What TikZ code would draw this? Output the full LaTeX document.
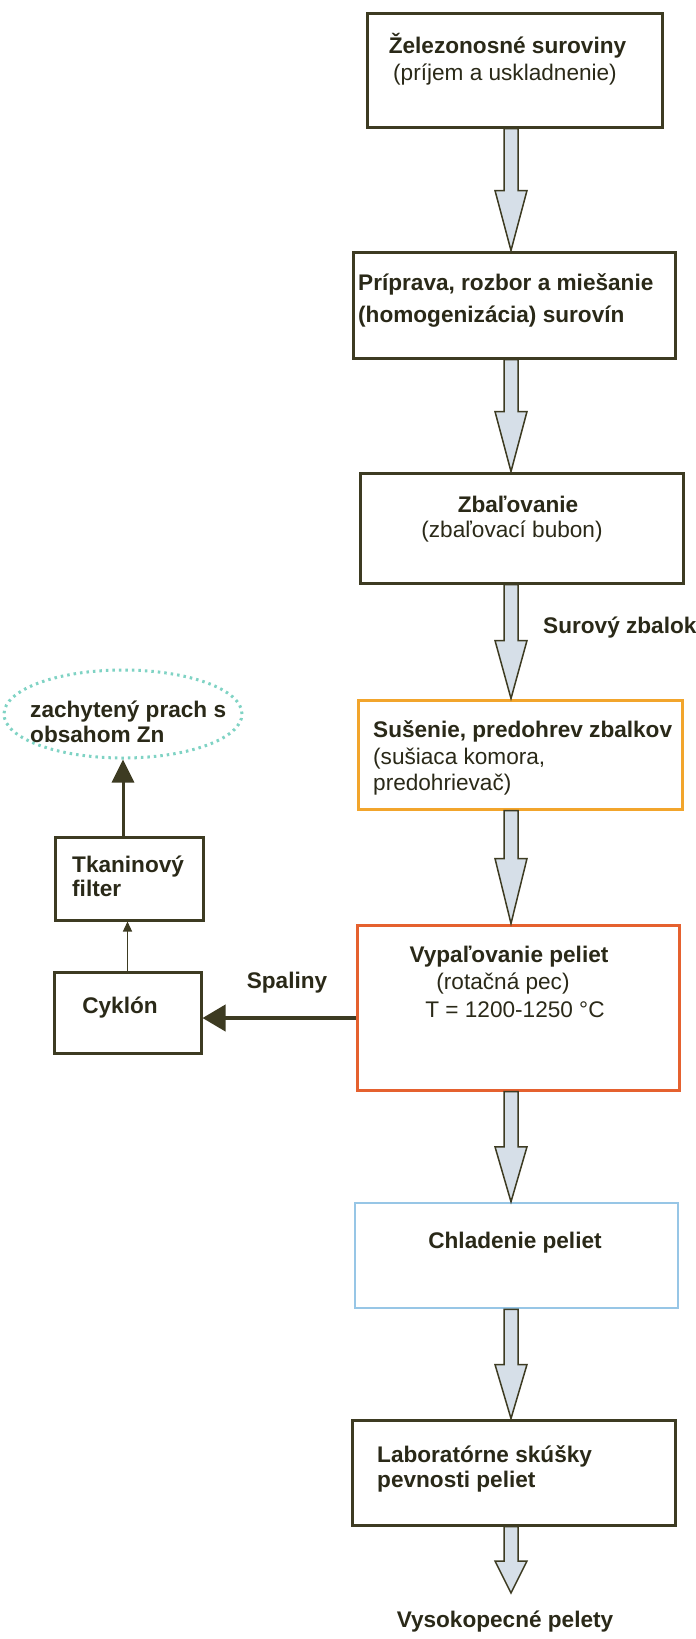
\documentclass[tikz,border=0pt]{standalone}
\usepackage{fontspec}
\setmainfont{Liberation Sans}
\usetikzlibrary{calc,arrows.meta,shapes.geometric}
\definecolor{boxdark}{HTML}{3D3B22}
\definecolor{txt}{HTML}{2A2918}
\definecolor{arrfill}{HTML}{D6DFE8}
\definecolor{orangeb}{HTML}{F2A52C}
\definecolor{redb}{HTML}{E5612F}
\definecolor{blueb}{HTML}{97C6E6}
\definecolor{dotteal}{HTML}{7FD3C4}
\tikzset{
  box/.style={draw=boxdark, line width=3pt, inner sep=0pt, fill=white},
  lblb/.style={font=\fontsize{22.6}{27}\selectfont\bfseries, text=txt, inner sep=0pt, anchor=base},
  lblr/.style={font=\fontsize{22.6}{27}\selectfont, text=txt, inner sep=0pt, anchor=base},
  flowarr/.style={draw=boxdark, fill=arrfill, line width=1.5pt, line join=miter},
  thkarr/.style={draw=boxdark, line width=4pt, -{Triangle[length=23pt,width=26pt]}},
  medarr/.style={draw=boxdark, line width=3pt, -{Triangle[length=23pt,width=22pt]}},
  thinarr/.style={draw=boxdark, line width=1.2pt, -{Triangle[length=10pt,width=9pt]}},
}
\newcommand\flowarrow[3]{\draw[flowarr] let \p1=(ax|-#1), \p2=(ax|-#2) in
  (\x1-7pt,\y1) -- (\x1+7pt,\y1) -- (\x1+7pt,\y2+#3pt) -- (\x1+16pt,\y2+#3pt) --
  (\x1,\y2) -- (\x1-16pt,\y2+#3pt) -- (\x1-7pt,\y2+#3pt) -- cycle;}
\begin{document}
\begin{tikzpicture}[x=1pt,y=-1pt]
\useasboundingbox[fill=white] (0,0) rectangle (696,1639);
\coordinate (ax) at (511,0);
\coordinate (out) at (511,1593);
% main boxes
\node[box, minimum width=295pt, minimum height=114pt] (b1) at (514.5,70) {};
\node[box, minimum width=322pt, minimum height=106pt] (b2) at (514,305) {};
\node[box, minimum width=323pt, minimum height=110pt] (b3) at (521.5,528) {};
\node[box, draw=orangeb, minimum width=324pt, minimum height=109pt] (b4) at (520,754.5) {};
\node[box, draw=redb, minimum width=322pt, minimum height=165pt] (b5) at (518,1007.5) {};
\node[box, draw=blueb, line width=2.5pt, minimum width=323pt, minimum height=105pt] (b6) at (516.5,1255.5) {};
\node[box, minimum width=323pt, minimum height=105pt] (b7) at (513.5,1472.5) {};
% side boxes
\node[box, minimum width=148pt, minimum height=83pt] (fi) at (129,878.5) {};
\node[box, minimum width=147pt, minimum height=81pt] (cy) at (127.5,1012.5) {};
\node[ellipse, draw=dotteal, line width=3pt, dash pattern=on 2.5pt off 4pt,
      minimum width=238pt, minimum height=88pt, inner sep=0pt] (el) at (123,714) {};
% block arrows
\flowarrow{b1.south}{b2.north}{60}
\flowarrow{b2.south}{b3.north}{60}
\flowarrow{b3.south}{b4.north}{58}
\flowarrow{b4.south}{b5.north}{65}
\flowarrow{b5.south}{b6.north}{55}
\flowarrow{b6.south}{b7.north}{54}
\flowarrow{b7.south}{out}{32}
% side arrows
\draw[thkarr] ($(b5.west |- cy.east)+(0,5.5)$) -- ($(cy.east)+(0,5.5)$);
\draw[thinarr] (cy.north) -- (cy.north |- fi.south);
\draw[medarr] (el.south |- fi.north) -- (el.south);
% texts
\node[lblb] (t1a) at (507.5,53) {Železonosné suroviny};
\node[lblr] (t1b) at (505,80) {(príjem a uskladnenie)};
\node[lblb, anchor=base west] (t2a) at (358,290) {Príprava, rozbor a miešanie};
\node[lblb, anchor=base west] (t2b) at (358,322) {(homogenizácia) surovín};
\node[lblb] (t3a) at (518,512) {Zbaľovanie};
\node[lblr] (t3b) at (512,537) {(zbaľovací bubon)};
\node[lblb, anchor=base west] (sz) at (543,633) {Surový zbalok};
\node[lblb, anchor=base west] (t4a) at (373,737) {Sušenie, predohrev zbalkov};
\node[lblr, anchor=base west] (t4b) at (373,764) {(sušiaca komora,};
\node[lblr, anchor=base west] (t4c) at (373,790) {predohrievač)};
\node[lblb] (t5a) at (509,962) {Vypaľovanie peliet};
\node[lblr] (t5b) at (503,989) {(rotačná pec)};
\node[lblr] (t5c) at (515,1017) {T = 1200-1250 °C};
\node[lblb] (t6) at (515,1248) {Chladenie peliet};
\node[lblb, anchor=base west] (t7a) at (377,1462) {Laboratórne skúšky};
\node[lblb, anchor=base west] (t7b) at (377,1487) {pevnosti peliet};
\node[lblb] (tout) at (505,1627) {Vysokopecné pelety};
\node[lblb, anchor=base west] (tel1) at (30,717) {zachytený prach s};
\node[lblb, anchor=base west] (tel2) at (30,742) {obsahom Zn};
\node[lblb, anchor=base west] (tfi1) at (72,872) {Tkaninový};
\node[lblb, anchor=base west] (tfi2) at (72,896) {filter};
\node[lblb] (tcy) at (120,1013) {Cyklón};
\node[lblb] (tsp) at (287,988) {Spaliny};
\end{tikzpicture}
\end{document}
